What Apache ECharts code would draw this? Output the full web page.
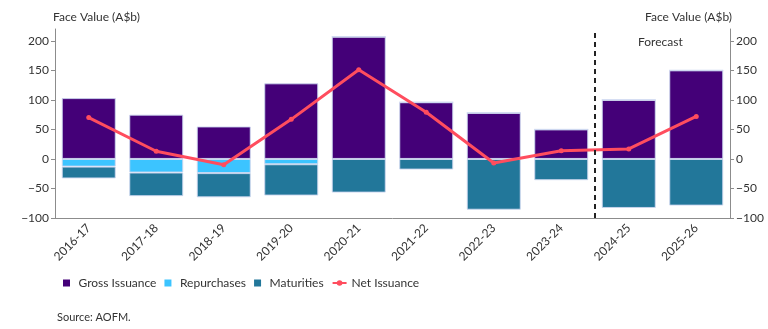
<!DOCTYPE html>
<html lang="en">

<head>
    <meta http-equiv="Content-Type" content="text/html; charset=utf-8" />
    <title>Gross issuance, repurchases and maturities</title>
    <style>
        html,
        body,
        #myChart {
            width: 100%;
            height: 100%;
            margin: 0;
            padding: 0;
            overflow: hidden;
            background: #ffffff;
        }
    </style>
</head>

<body>
    <div id="myChart"></div>
    <script src="https://cdn.jsdelivr.net/npm/echarts@6/dist/echarts.min.js"></script>
    <script>
        // financial years
        var years = ['2016-17', '2017-18', '2018-19', '2019-20', '2020-21', '2021-22', '2022-23', '2023-24', '2024-25', '2025-26'];
        // A$b
        var grossIssuance = [103, 75, 55, 128, 207, 96, 78, 50, 100, 150];
        var repurchases = [-13, -23, -24, -9, 0, 0, 0, 0, 0, 0];
        var maturities = [-20, -40, -41, -53, -57, -18, -86, -36, -83, -79];
        var netIssuance = [70, 13, -10, 67, 151, 79, -7, 14, 17, 72];
        var yTicks = { min: -100, max: 220, interval: 50 };
        var forecastStart = 8; // first forecast year index

        var font = 'Lato';
        var textColor = '#333333';
        var axisColor = '#8c8c8c';
        var squareIcon = 'path://M0,0H10V10H0Z';

        var myChart = echarts.init(document.getElementById('myChart'));

        var yAxisBase = function (pos) {
            return {
                type: 'value',
                position: pos,
                min: yTicks.min,
                max: yTicks.max,
                interval: yTicks.interval,
                name: 'Face Value (A$b)',
                nameLocation: 'end',
                nameGap: 6,
                nameTextStyle: {
                    color: textColor,
                    fontFamily: font,
                    fontSize: 12,
                    align: pos == 'left' ? 'left' : 'right',
                    padding: pos == 'left' ? [0, 0, 0, -2] : [0, -2, 0, 0]
                },
                axisLine: { show: true, lineStyle: { color: axisColor } },
                axisTick: { show: true, length: 4, lineStyle: { color: axisColor } },
                axisLabel: {
                    color: textColor,
                    fontFamily: font,
                    fontSize: 12,
                    margin: 6,
                    showMaxLabel: false,
                    formatter: function (v) {
                        return v < 0 ? '\u2212' + Math.abs(v) : v;
                    }
                },
                splitLine: { show: false }
            };
        };

        var barStyle = function (color) {
            return {
                color: color,
                borderColor: 'rgba(205,215,240,0.9)',
                borderWidth: 1
            };
        };

        var option = {
            animation: false,
            grid: {
                left: 55,
                right: 38,
                top: 29,
                bottom: 111
            },
            legend: {
                left: 58,
                top: 272,
                itemGap: 8,
                itemWidth: 14,
                itemHeight: 7,
                symbolKeepAspect: true,
                textStyle: { color: textColor, fontFamily: font, fontSize: 12 },
                data: [
                    { name: 'Gross Issuance', icon: squareIcon, itemStyle: { borderWidth: 0 } },
                    { name: 'Repurchases', icon: squareIcon, itemStyle: { borderWidth: 0 } },
                    { name: 'Maturities', icon: squareIcon, itemStyle: { borderWidth: 0 } },
                    { name: 'Net Issuance' }
                ]
            },
            xAxis: [{
                type: 'category',
                data: years,
                axisLine: { onZero: false, lineStyle: { color: axisColor } },
                axisTick: { alignWithLabel: true, length: 4, lineStyle: { color: axisColor } },
                axisLabel: {
                    color: textColor,
                    fontFamily: font,
                    fontSize: 12,
                    rotate: 45,
                    margin: 8,
                    interval: 0
                }
            }, {
                // hidden axis to place the forecast divider between two years
                type: 'value',
                min: 0,
                max: years.length,
                show: false
            }],
            yAxis: [yAxisBase('left'), yAxisBase('right')],
            graphic: [{
                type: 'text',
                left: 638,
                top: 36,
                style: { text: 'Forecast', fill: textColor, font: '12px ' + font }
            }, {
                type: 'text',
                left: 57,
                top: 312,
                style: { text: 'Source: AOFM.', fill: textColor, font: '11px ' + font }
            }],
            series: [{
                name: 'Gross Issuance',
                type: 'bar',
                stack: 'flows',
                barWidth: '80%',
                data: grossIssuance,
                itemStyle: barStyle('#440078')
            }, {
                name: 'Repurchases',
                type: 'bar',
                stack: 'flows',
                data: repurchases,
                itemStyle: barStyle('#3cc4ff')
            }, {
                name: 'Maturities',
                type: 'bar',
                stack: 'flows',
                data: maturities,
                itemStyle: barStyle('#22779a')
            }, {
                name: 'Net Issuance',
                type: 'line',
                data: netIssuance,
                symbol: 'circle',
                symbolSize: 5,
                z: 5,
                lineStyle: { color: '#ff4d5e', width: 3 },
                itemStyle: { color: '#ff4d5e' }
            }, {
                name: 'divider',
                type: 'line',
                xAxisIndex: 1,
                data: [[forecastStart, yTicks.min], [forecastStart, yTicks.max]],
                symbol: 'none',
                silent: true,
                z: 6,
                lineStyle: { color: '#222222', width: 2, type: [5, 4] }
            }]
        };
        myChart.setOption(option);
    </script>
</body>

</html>
